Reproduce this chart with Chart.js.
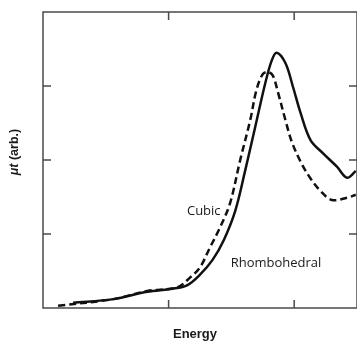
<!DOCTYPE html>
<html>
<head>
<meta charset="utf-8">
<script src="https://cdn.jsdelivr.net/npm/chart.js@4.4.1/dist/chart.umd.min.js"></script>
<style>
    body { margin: 0; background: #fff; }
    #wrap { width: 357px; height: 342px; position: relative; }
</style>
</head>
<body>
<div id="wrap"><canvas id="xasChart"></canvas></div>
<script>
// values (energy and absorption in arbitrary units)
var rhomboX = [0.24, 0.56, 0.83, 1.03, 1.15, 1.25, 1.35, 1.44, 1.53, 1.61, 1.69, 1.77, 1.82, 1.86, 1.93, 1.99, 2.05, 2.13, 2.23, 2.34, 2.42, 2.49];
var rhomboY = [0.07, 0.12, 0.22, 0.26, 0.31, 0.45, 0.65, 0.92, 1.31, 1.86, 2.45, 3.04, 3.34, 3.45, 3.31, 2.99, 2.64, 2.27, 2.09, 1.91, 1.76, 1.85];
var cubicX = [0.12, 0.56, 0.83, 1.07, 1.17, 1.25, 1.33, 1.41, 1.49, 1.57, 1.65, 1.70, 1.75, 1.79, 1.83, 1.87, 1.93, 1.98, 2.05, 2.13, 2.21, 2.30, 2.42, 2.49];
var cubicY = [0.03, 0.12, 0.23, 0.28, 0.41, 0.55, 0.82, 1.09, 1.42, 2.00, 2.54, 2.95, 3.16, 3.19, 3.14, 2.92, 2.54, 2.25, 1.98, 1.75, 1.58, 1.46, 1.49, 1.53];
var xTicks = [1, 2];
var yTicks = [1, 2, 3];

function toPoints(xs, ys) {
    var pts = [];
    for (var i = 0; i < xs.length; i++) {
        pts.push({ x: xs[i], y: ys[i] });
    }
    return pts;
}

// frame, inward ticks on all four sides, axis titles and curve labels
var framePlugin = {
    id: 'frame',
    afterDraw: function (chart) {
        var ctx = chart.ctx;
        var a = chart.chartArea;
        var xs = chart.scales.x;
        var ys = chart.scales.y;
        ctx.save();
        ctx.strokeStyle = '#4a4a4a';
        ctx.lineWidth = 1.5;
        ctx.strokeRect(a.left, a.top, a.right - a.left, a.bottom - a.top);
        var len = 8;
        ctx.beginPath();
        xTicks.forEach(function (v) {
            var px = xs.getPixelForValue(v);
            ctx.moveTo(px, a.bottom); ctx.lineTo(px, a.bottom - len);
            ctx.moveTo(px, a.top); ctx.lineTo(px, a.top + len);
        });
        yTicks.forEach(function (v) {
            var py = ys.getPixelForValue(v);
            ctx.moveTo(a.left, py); ctx.lineTo(a.left + len, py);
            ctx.moveTo(a.right, py); ctx.lineTo(a.right - len, py);
        });
        ctx.stroke();

        ctx.fillStyle = '#1a1a1a';
        ctx.textBaseline = 'middle';
        ctx.textAlign = 'center';
        ctx.font = 'bold 13px "Liberation Sans", Arial, sans-serif';
        ctx.fillText('Energy', (a.left + a.right) / 2 - 5, 334);

        // rotated y title, mu-t in italics
        ctx.translate(15, (a.top + a.bottom) / 2 - 8);
        ctx.rotate(-Math.PI / 2);
        var f1 = 'italic bold 12.5px "Liberation Sans", Arial, sans-serif';
        var f2 = 'bold 12.5px "Liberation Sans", Arial, sans-serif';
        ctx.font = f1;
        var w1 = ctx.measureText('\u03bct').width;
        ctx.font = f2;
        var w2 = ctx.measureText(' (arb.)').width;
        ctx.textAlign = 'left';
        ctx.font = f1;
        ctx.fillText('\u03bct', -(w1 + w2) / 2, 0);
        ctx.font = f2;
        ctx.fillText(' (arb.)', -(w1 + w2) / 2 + w1, 0);
        ctx.restore();

        ctx.save();
        ctx.fillStyle = '#1a1a1a';
        ctx.textAlign = 'center';
        ctx.textBaseline = 'middle';
        ctx.font = '13px "Open Sans", sans-serif';
        ctx.fillText('Cubic', xs.getPixelForValue(1.28), ys.getPixelForValue(1.31));
        ctx.fillText('Rhombohedral', xs.getPixelForValue(1.855), ys.getPixelForValue(0.61));
        ctx.restore();
    }
};

var xasChart = new Chart(document.getElementById('xasChart'), {
    type: 'scatter',
    data: {
        datasets: [{
            label: 'Rhombohedral',
            data: toPoints(rhomboX, rhomboY),
            showLine: true,
            borderColor: '#111',
            borderWidth: 2.5,
            pointRadius: 0,
            tension: 0.35
        }, {
            label: 'Cubic',
            data: toPoints(cubicX, cubicY),
            showLine: true,
            borderColor: '#111',
            borderWidth: 2.5,
            borderDash: [7, 4],
            pointRadius: 0,
            tension: 0.35
        }]
    },
    options: {
        responsive: true,
        maintainAspectRatio: false,
        animation: false,
        layout: {
            padding: { left: 43, top: 12, right: 0, bottom: 34 }
        },
        plugins: {
            legend: { display: false },
            tooltip: { enabled: false }
        },
        scales: {
            x: { type: 'linear', display: false, min: 0, max: 2.5 },
            y: { type: 'linear', display: false, min: 0, max: 4 }
        }
    },
    plugins: [framePlugin]
});
</script>
</body>
</html>
